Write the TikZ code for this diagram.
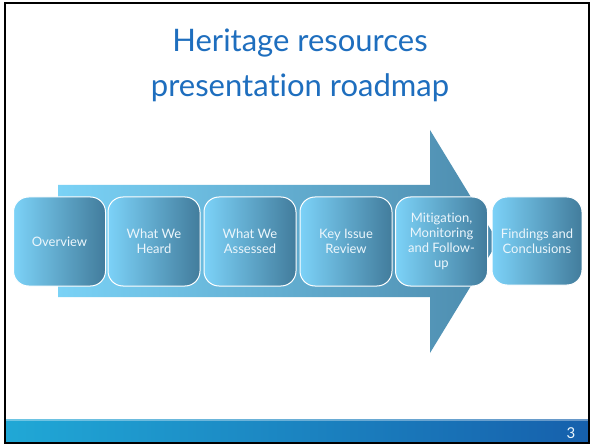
\documentclass[tikz,border=0pt]{standalone}
\usepackage{fontspec}
\setmainfont{Lato}[Ligatures={NoCommon}]
\usetikzlibrary{positioning}
\definecolor{titleblue}{RGB}{30,110,190}
\definecolor{boxlight}{RGB}{124,210,248}
\definecolor{boxdark}{RGB}{66,124,156}
\definecolor{arrlight}{RGB}{122,210,246}
\definecolor{arrdark}{RGB}{76,138,172}
\definecolor{footl}{RGB}{32,168,214}
\definecolor{footr}{RGB}{22,96,172}
\definecolor{boxtext}{RGB}{236,246,252}
\tikzset{
  stepbox/.style={rounded corners=15pt, draw=white, line width=1pt,
    shading=axis, left color=boxlight, right color=boxdark,
    minimum width=92pt, minimum height=89pt, inner sep=2pt,
    text=boxtext, font=\fontsize{13}{15}\selectfont, align=center},
}
\begin{document}
\begin{tikzpicture}[x=1pt,y=-1pt]
\useasboundingbox (0,0) rectangle (594,446);
\fill[white] (0,0) rectangle (594,446);
% footer bar
\shade[left color=footl, right color=footr] (5,419) rectangle (589,442);
\fill[white,opacity=0.35] (5,419) rectangle (589,421);
\node[text=boxtext, font=\fontsize{15}{17}\selectfont] (pagenum) at (571,433) {3};
% frame
\draw[black, line width=1.6pt] (5,3) rectangle (589,443);
% title
\node[text=titleblue, font=\fontsize{31}{45}\selectfont, align=center] (title) at (300,65)
  {Heritage resources\\presentation roadmap};
% arrow
\shade[left color=arrlight, right color=arrdark]
  (58,185) -- (430,185) -- (430,130) -- (498,241.5) -- (430,353) -- (430,297) -- (58,297) -- cycle;
% boxes
\node[stepbox] (b1) at (59.5,241.5) {Overview};
\node[stepbox] (b2) at (154,241.5) {What We\\Heard};
\node[stepbox] (b3) at (250,241.5) {What We\\Assessed};
\node[stepbox] (b4) at (346,241.5) {Key Issue\\Review};
\node[stepbox] (b5) at (441.5,241.5) {Mitigation,\\Monitoring\\and Follow-\\up};
\node[stepbox, minimum width=90pt, minimum height=88pt] (b6) at (537,241) {Findings and\\Conclusions};
\end{tikzpicture}
\end{document}
